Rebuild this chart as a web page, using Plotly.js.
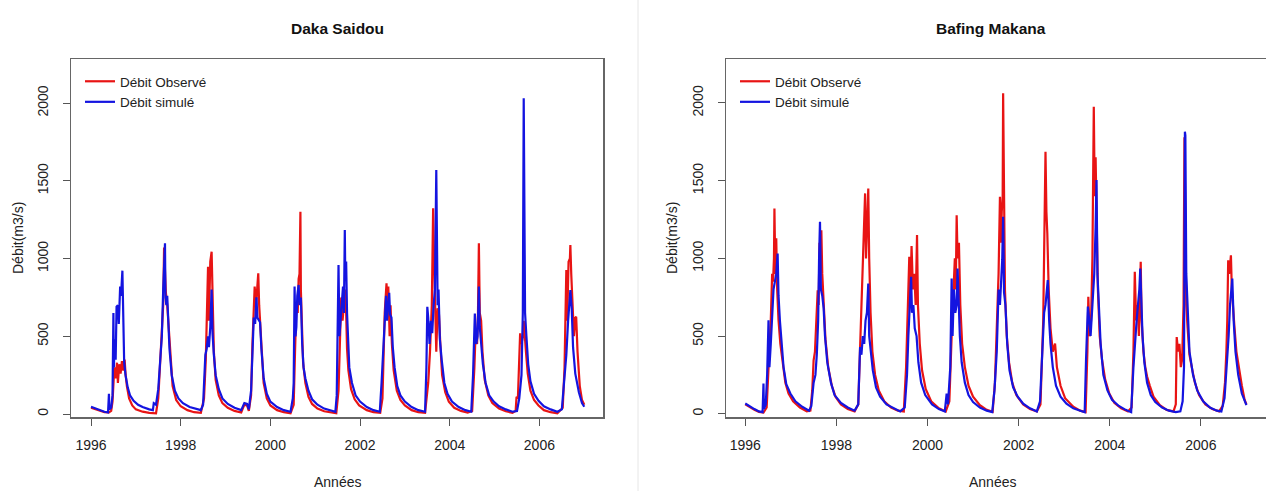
<!DOCTYPE html>
<html>
<head>
<meta charset="utf-8">
<script src="https://cdn.plot.ly/plotly-3.0.1.min.js"></script>
<style>
  html, body { margin: 0; padding: 0; background: #ffffff; }
  #chart { width: 1266px; height: 491px; }
</style>
</head>
<body>
<div id="chart"></div>
<script>
// Daily discharge (m3/s), observed vs simulated, 1996-2006, two gauging stations.
// Time is given in decimal years.

// ---- Daka Saidou : observed ----
const dakaObsYear = [1996.00,1996.10,1996.20,1996.30,1996.40,1996.45,1996.48,1996.52,1996.55,1996.58,1996.60,1996.63,1996.66,1996.69,1996.72,1996.75,1996.77,1996.80,1996.85,1996.92,
  1997.00,1997.15,1997.30,1997.45,1997.50,1997.55,1997.58,1997.61,1997.63,1997.65,1997.67,1997.70,1997.73,1997.77,1997.82,1997.90,
  1998.00,1998.15,1998.30,1998.45,1998.52,1998.56,1998.59,1998.61,1998.63,1998.66,1998.69,1998.71,1998.74,1998.78,1998.85,1998.93,
  1999.05,1999.20,1999.35,1999.42,1999.48,1999.52,1999.57,1999.60,1999.62,1999.65,1999.68,1999.71,1999.73,1999.75,1999.78,1999.81,1999.85,1999.92,
  2000.00,2000.15,2000.30,2000.45,2000.52,2000.55,2000.58,2000.61,2000.63,2000.65,2000.67,2000.68,2000.70,2000.73,2000.78,2000.85,2000.93,
  2001.05,2001.20,2001.35,2001.47,2001.52,2001.55,2001.58,2001.61,2001.64,2001.67,2001.69,2001.71,2001.74,2001.80,2001.88,2001.98,
  2002.15,2002.30,2002.45,2002.50,2002.55,2002.59,2002.61,2002.63,2002.66,2002.68,2002.71,2002.75,2002.82,2002.90,
  2003.00,2003.15,2003.30,2003.45,2003.52,2003.56,2003.60,2003.63,2003.65,2003.68,2003.70,2003.73,2003.76,2003.79,2003.83,2003.90,2003.98,
  2004.10,2004.25,2004.40,2004.50,2004.55,2004.58,2004.61,2004.63,2004.65,2004.67,2004.70,2004.73,2004.78,2004.86,2004.95,
  2005.10,2005.25,2005.40,2005.47,2005.49,2005.52,2005.55,2005.57,2005.60,2005.63,2005.65,2005.67,2005.70,2005.74,2005.80,2005.88,2005.98,
  2006.10,2006.25,2006.40,2006.52,2006.56,2006.60,2006.62,2006.65,2006.68,2006.69,2006.71,2006.74,2006.77,2006.80,2006.82,2006.85,2006.90,2006.95,2007.00];
const dakaObsQ = [40,30,22,12,10,20,80,300,230,330,200,320,260,340,280,350,260,180,100,55,
  30,15,8,5,100,350,480,700,1070,900,780,700,550,350,180,90,
  50,25,12,8,100,350,700,947,600,980,1044,750,400,220,120,70,
  40,20,10,60,55,20,120,450,585,820,700,800,905,700,550,420,200,100,
  55,25,12,5,60,400,700,650,870,900,1301,800,600,330,200,110,65,
  35,18,10,5,150,450,750,600,700,800,650,420,280,160,95,55,
  25,12,8,100,650,840,700,820,500,700,450,280,150,90,
  55,25,12,8,200,400,700,1323,1000,600,400,680,640,450,250,140,80,
  40,20,10,20,300,550,450,650,1098,650,600,400,220,120,70,
  35,18,8,20,111,100,300,519,450,500,600,500,400,260,150,90,55,
  25,12,5,40,300,926,600,980,1000,1087,900,700,500,620,626,400,180,90,60];

// ---- Daka Saidou : simulated ----
const dakaSimYear = [1996.00,1996.10,1996.20,1996.30,1996.38,1996.40,1996.41,1996.45,1996.48,1996.50,1996.51,1996.53,1996.55,1996.57,1996.60,1996.62,1996.65,1996.67,1996.70,1996.72,1996.74,1996.77,1996.82,1996.87,1996.95,
  1997.05,1997.15,1997.30,1997.38,1997.40,1997.45,1997.50,1997.55,1997.58,1997.61,1997.63,1997.65,1997.66,1997.68,1997.70,1997.72,1997.75,1997.80,1997.87,1997.95,
  1998.05,1998.20,1998.35,1998.45,1998.50,1998.55,1998.58,1998.61,1998.63,1998.66,1998.69,1998.71,1998.74,1998.78,1998.85,1998.93,
  1999.05,1999.20,1999.35,1999.42,1999.48,1999.52,1999.57,1999.60,1999.63,1999.66,1999.69,1999.71,1999.74,1999.77,1999.80,1999.85,1999.92,
  2000.00,2000.15,2000.30,2000.45,2000.50,2000.52,2000.54,2000.56,2000.58,2000.60,2000.63,2000.65,2000.68,2000.71,2000.74,2000.78,2000.85,2000.93,
  2001.05,2001.20,2001.35,2001.45,2001.48,2001.50,2001.52,2001.54,2001.57,2001.60,2001.62,2001.64,2001.66,2001.67,2001.69,2001.71,2001.73,2001.76,2001.82,2001.90,
  2002.00,2002.15,2002.30,2002.44,2002.48,2002.52,2002.55,2002.58,2002.60,2002.62,2002.65,2002.67,2002.70,2002.73,2002.77,2002.83,2002.90,
  2003.00,2003.15,2003.30,2003.45,2003.48,2003.50,2003.52,2003.55,2003.58,2003.61,2003.64,2003.67,2003.70,2003.71,2003.73,2003.75,2003.78,2003.82,2003.88,2003.95,
  2004.05,2004.20,2004.35,2004.48,2004.52,2004.56,2004.59,2004.62,2004.65,2004.67,2004.70,2004.74,2004.80,2004.88,2004.98,
  2005.10,2005.25,2005.40,2005.50,2005.55,2005.60,2005.63,2005.65,2005.66,2005.68,2005.71,2005.75,2005.80,2005.88,2005.98,
  2006.10,2006.25,2006.40,2006.50,2006.55,2006.60,2006.64,2006.67,2006.69,2006.72,2006.75,2006.80,2006.88,2006.95,2007.00];
const dakaSimQ = [47,35,25,15,10,130,30,40,120,650,300,480,350,690,700,580,820,760,922,600,330,250,170,120,85,
  60,45,30,25,70,60,160,380,500,800,1050,1098,750,700,760,560,420,250,150,100,
  70,45,30,25,60,380,420,500,430,560,800,520,380,250,160,100,
  65,40,25,70,65,30,150,400,620,580,750,620,600,590,420,230,130,
  80,45,25,15,100,200,820,500,560,760,830,700,750,450,300,230,150,95,
  60,35,20,15,120,780,958,500,600,700,820,650,1183,900,980,650,500,300,200,120,
  80,45,25,15,200,420,600,760,600,700,780,640,620,430,300,180,120,
  80,45,25,15,300,690,620,450,600,520,700,800,1569,1240,700,800,480,350,200,130,
  80,45,25,15,250,647,450,500,820,560,450,320,200,120,80,
  50,30,15,20,100,250,650,2030,1165,650,500,320,210,130,85,
  50,30,15,30,200,380,600,700,797,680,430,260,140,70,47];

// ---- Bafing Makana : observed ----
const bafObsYear = [1996.00,1996.10,1996.20,1996.30,1996.40,1996.47,1996.52,1996.56,1996.59,1996.61,1996.63,1996.64,1996.66,1996.68,1996.70,1996.73,1996.77,1996.82,1996.88,1996.95,
  1997.05,1997.20,1997.35,1997.43,1997.47,1997.50,1997.53,1997.56,1997.59,1997.61,1997.63,1997.65,1997.67,1997.69,1997.72,1997.76,1997.82,1997.90,1997.98,
  1998.10,1998.25,1998.40,1998.48,1998.53,1998.57,1998.60,1998.62,1998.63,1998.65,1998.67,1998.70,1998.72,1998.75,1998.79,1998.85,1998.93,
  1999.05,1999.20,1999.35,1999.48,1999.53,1999.57,1999.60,1999.62,1999.65,1999.68,1999.71,1999.74,1999.77,1999.79,1999.83,1999.88,1999.96,
  2000.08,2000.25,2000.40,2000.48,2000.53,2000.57,2000.60,2000.62,2000.64,2000.66,2000.69,2000.72,2000.76,2000.82,2000.90,
  2001.00,2001.15,2001.30,2001.43,2001.48,2001.53,2001.56,2001.59,2001.61,2001.63,2001.65,2001.66,2001.68,2001.70,2001.74,2001.79,2001.86,2001.95,
  2002.10,2002.25,2002.40,2002.48,2002.54,2002.57,2002.59,2002.61,2002.63,2002.66,2002.70,2002.75,2002.80,2002.84,2002.92,
  2003.02,2003.20,2003.35,2003.47,2003.51,2003.53,2003.56,2003.59,2003.62,2003.64,2003.65,2003.67,2003.69,2003.71,2003.74,2003.78,2003.83,2003.90,2003.99,
  2004.10,2004.25,2004.40,2004.48,2004.52,2004.55,2004.58,2004.61,2004.64,2004.66,2004.68,2004.70,2004.74,2004.78,2004.82,2004.88,2004.96,
  2005.10,2005.25,2005.40,2005.45,2005.47,2005.50,2005.53,2005.56,2005.59,2005.62,2005.64,2005.66,2005.68,2005.71,2005.75,2005.80,2005.87,2005.96,
  2006.10,2006.25,2006.40,2006.48,2006.53,2006.56,2006.58,2006.60,2006.62,2006.64,2006.66,2006.68,2006.71,2006.74,2006.78,2006.83,2006.90,2006.96,2007.00];
const bafObsQ = [60,40,25,12,8,40,350,600,900,850,1000,1321,900,1130,800,600,450,320,200,130,
  80,40,15,20,150,344,400,600,795,700,1100,1000,1180,900,700,480,300,180,110,
  60,30,15,60,500,900,1100,1300,1418,1000,1200,1450,1000,650,400,250,150,
  80,40,20,15,300,700,1010,700,1080,800,900,700,1150,700,450,280,160,
  80,35,15,80,500,750,1000,800,1278,1000,1100,700,450,300,180,
  110,55,25,12,200,600,900,1396,1100,1300,1400,2062,1200,800,500,330,200,120,
  60,30,15,60,600,1200,1686,1300,1160,800,550,400,452,300,180,
  100,45,20,10,400,752,500,600,1000,1700,1976,1400,1650,1300,800,500,350,220,130,
  70,35,15,40,400,913,600,700,500,800,978,600,400,300,240,180,110,
  55,25,15,60,494,400,450,300,350,700,1780,1200,700,550,380,300,200,120,
  60,30,15,50,200,400,600,988,900,950,1020,800,700,550,400,300,180,90,60];

// ---- Bafing Makana : simulated ----
const bafSimYear = [1996.00,1996.10,1996.20,1996.30,1996.38,1996.40,1996.41,1996.45,1996.48,1996.51,1996.53,1996.56,1996.59,1996.62,1996.65,1996.68,1996.71,1996.73,1996.76,1996.80,1996.84,1996.90,1996.99,
  1997.10,1997.25,1997.40,1997.45,1997.50,1997.54,1997.57,1997.60,1997.62,1997.64,1997.66,1997.69,1997.72,1997.75,1997.80,1997.88,1997.96,
  1998.10,1998.25,1998.40,1998.48,1998.52,1998.55,1998.58,1998.61,1998.64,1998.67,1998.70,1998.72,1998.75,1998.80,1998.87,1998.96,
  1999.10,1999.25,1999.40,1999.50,1999.55,1999.58,1999.61,1999.64,1999.66,1999.69,1999.72,1999.76,1999.80,1999.86,1999.95,
  2000.10,2000.25,2000.38,2000.42,2000.45,2000.50,2000.53,2000.55,2000.58,2000.61,2000.64,2000.66,2000.68,2000.71,2000.75,2000.82,2000.90,
  2001.00,2001.15,2001.30,2001.42,2001.47,2001.52,2001.56,2001.59,2001.62,2001.64,2001.66,2001.68,2001.71,2001.75,2001.80,2001.88,2001.98,
  2002.10,2002.25,2002.40,2002.47,2002.52,2002.56,2002.59,2002.62,2002.64,2002.67,2002.70,2002.75,2002.82,2002.92,
  2003.05,2003.20,2003.35,2003.45,2003.48,2003.52,2003.55,2003.58,2003.62,2003.66,2003.69,2003.71,2003.73,2003.76,2003.80,2003.86,2003.95,
  2004.05,2004.20,2004.35,2004.47,2004.52,2004.56,2004.59,2004.62,2004.65,2004.67,2004.69,2004.72,2004.76,2004.82,2004.90,
  2005.00,2005.15,2005.30,2005.45,2005.55,2005.60,2005.63,2005.64,2005.65,2005.66,2005.68,2005.71,2005.75,2005.83,2005.92,
  2006.05,2006.20,2006.35,2006.45,2006.52,2006.57,2006.61,2006.64,2006.67,2006.69,2006.72,2006.76,2006.82,2006.90,2007.00];
const bafSimQ = [66,45,30,15,10,194,30,60,250,602,300,450,650,800,850,900,1031,760,600,420,300,190,130,
  80,45,20,50,200,250,380,600,1000,1235,800,760,680,500,330,200,120,
  70,40,20,60,430,380,500,450,600,650,838,500,400,280,170,110,
  60,35,15,40,250,500,700,881,650,700,550,500,330,200,120,
  60,30,15,130,60,300,870,500,800,650,700,935,700,500,330,200,120,
  75,40,20,10,150,400,800,700,900,990,1267,780,700,450,280,170,110,
  65,35,15,80,400,650,700,800,860,600,450,300,180,110,
  65,35,20,10,350,690,600,500,700,900,1200,1504,900,700,450,250,150,
  90,50,25,10,300,500,600,700,800,935,700,500,330,200,120,
  75,40,20,10,15,80,300,1000,1815,1790,900,666,400,247,150,
  80,40,20,15,100,300,500,700,850,870,600,400,250,130,55];

const stationNames = ['Daka Saidou', 'Bafing Makana'];
const seriesNames = ['Débit Observé', 'Débit simulé'];
const seriesColors = ['#e81414', '#1414e0'];
const yearTicks = [1996, 1998, 2000, 2002, 2004, 2006];
const flowTicks = [0, 500, 1000, 1500, 2000];

const W = 1266, H = 491;
const FONT = 'Liberation Sans, Arial, Helvetica, sans-serif';
const px = v => v / W;
const py = v => 1 - v / H;

function trace(x, y, k, xa, ya, legendId) {
  return {
    x: x, y: y, type: 'scatter', mode: 'lines',
    name: seriesNames[k], xaxis: xa, yaxis: ya, legend: legendId,
    line: { color: seriesColors[k], width: 2.2 },
    hoverinfo: 'skip'
  };
}

const data = [
  trace(dakaObsYear, dakaObsQ, 0, 'x', 'y', 'legend'),
  trace(dakaSimYear, dakaSimQ, 1, 'x', 'y', 'legend'),
  trace(bafObsYear, bafObsQ, 0, 'x2', 'y2', 'legend2'),
  trace(bafSimYear, bafSimQ, 1, 'x2', 'y2', 'legend2')
];

function xAxis(domain, range, anchor) {
  return {
    domain: domain, range: range, anchor: anchor,
    tickmode: 'array', tickvals: yearTicks, ticktext: yearTicks.map(String),
    ticks: 'outside', ticklen: 7, tickwidth: 1, tickcolor: '#555',
    showline: true, mirror: true, linecolor: '#666', linewidth: 1.5,
    showgrid: false, zeroline: false,
    tickfont: { family: FONT, size: 14, color: '#222' },
    ticklabelstandoff: 8
  };
}
function yAxis(range, anchor) {
  return {
    domain: [py(417), py(59)], range: range, anchor: anchor,
    tickmode: 'array', tickvals: flowTicks, ticktext: flowTicks.map(String),
    tickangle: -90,
    ticks: 'outside', ticklen: 7, tickwidth: 1, tickcolor: '#555',
    showline: true, mirror: true, linecolor: '#666', linewidth: 1.5,
    showgrid: false, zeroline: false,
    tickfont: { family: FONT, size: 14, color: '#222' },
    ticklabelstandoff: 9
  };
}

function legendAt(x) {
  return {
    x: px(x), y: py(66), xanchor: 'left', yanchor: 'top',
    bgcolor: 'rgba(0,0,0,0)', borderwidth: 0,
    font: { family: FONT, size: 13.5, color: '#222' },
    tracegroupgap: 0, itemclick: false, itemdoubleclick: false
  };
}

function text(t, x, y, opts) {
  return Object.assign({
    text: t, x: px(x), y: py(y), xref: 'paper', yref: 'paper',
    showarrow: false, xanchor: 'center', yanchor: 'middle',
    font: { family: FONT, size: 14, color: '#222' }
  }, opts || {});
}

const layout = {
  width: W, height: H,
  margin: { l: 0, r: 0, t: 0, b: 0 },
  paper_bgcolor: '#ffffff', plot_bgcolor: '#ffffff',
  showlegend: true,
  xaxis: xAxis([px(71), px(603)], [1995.554, 2007.418], 'y'),
  yaxis: yAxis([-19, 2283], 'x'),
  xaxis2: xAxis([px(726), px(1266)], [1995.577, 2007.43], 'y2'),
  yaxis2: yAxis([-21, 2283], 'x2'),
  legend: legendAt(80),
  legend2: legendAt(735),
  shapes: [
    { type: 'line', xref: 'paper', yref: 'paper', x0: px(638), x1: px(638), y0: 0, y1: 1,
      line: { color: '#e6e6e6', width: 1 } }
  ],
  annotations: [
    text('<b>' + stationNames[0] + '</b>', 337, 28, { font: { family: FONT, size: 15.5, color: '#111' } }),
    text('<b>' + stationNames[1] + '</b>', 991, 28, { font: { family: FONT, size: 15.5, color: '#111' } }),
    text('Années', 337, 482),
    text('Années', 992, 482),
    text('Débit(m3/s)', 18, 238, { textangle: -90 }),
    text('Débit(m3/s)', 672, 238, { textangle: -90 })
  ]
};

Plotly.newPlot('chart', data, layout, { staticPlot: true, displayModeBar: false });
</script>
</body>
</html>
